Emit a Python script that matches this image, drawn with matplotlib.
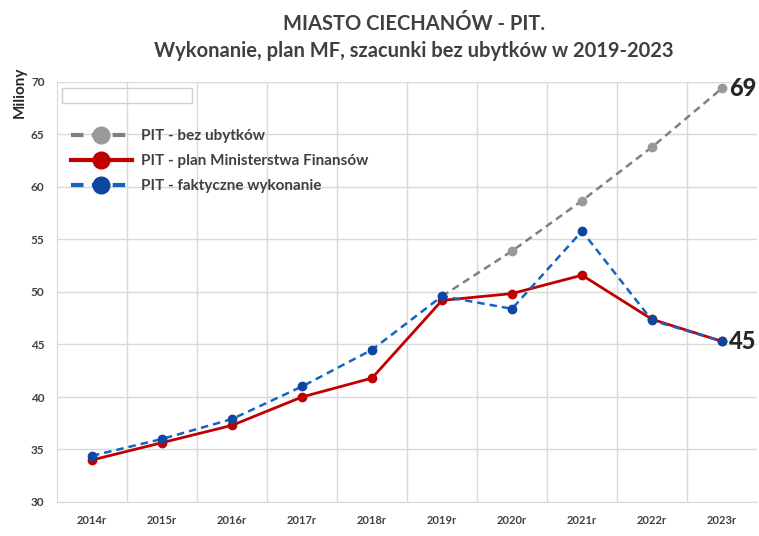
import matplotlib
matplotlib.use('Agg')
import matplotlib.pyplot as plt
from matplotlib.patches import Rectangle

lata = ['2014r', '2015r', '2016r', '2017r', '2018r', '2019r', '2020r', '2021r', '2022r', '2023r']
bez_ubytkow = [None, None, None, None, None, 49.6, 53.9, 58.7, 63.8, 69.4]
plan_mf = [34.0, 35.65, 37.3, 40.0, 41.8, 49.2, 49.85, 51.6, 47.4, 45.3]
wykonanie = [34.4, 36.0, 37.9, 41.0, 44.5, 49.6, 48.4, 55.8, 47.3, 45.3]

plt.rcParams['font.family'] = ['Lato', 'DejaVu Sans']
tekst = '#404040'

fig = plt.figure(figsize=(7.59, 5.36), dpi=100)
ax = fig.add_axes([57 / 759, 34 / 536, 700 / 759, 420 / 536])

x = list(range(len(lata)))
xb = [i for i, v in zip(x, bez_ubytkow) if v is not None]
yb = [v for v in bez_ubytkow if v is not None]

ax.plot(xb, yb, color='#808080', ls=(0, (3, 2)), lw=1.8, marker='o', ms=6,
        mfc='#999999', mec='#999999', label='PIT - bez ubytków', zorder=3)
ax.plot(x, plan_mf, color='#C00000', lw=2, marker='o', ms=6,
        label='PIT - plan Ministerstwa Finansów', zorder=4)
ax.plot(x, wykonanie, color='#1565C0', ls=(0, (3, 2)), lw=1.8, marker='o', ms=6,
        mfc='#0D47A1', mec='#0D47A1', label='PIT - faktyczne wykonanie', zorder=5)

ax.text(x[-1] + 0.1, yb[-1], '69', fontsize=17, fontweight='black', color='#262626', va='center')
ax.text(x[-1] + 0.1, wykonanie[-1], '45', fontsize=17, fontweight='black', color='#262626', va='center')

ax.set_xlim(-0.5, 9.5)
ax.set_ylim(30, 70)
ax.set_xticks(x)
ax.set_xticklabels(lata, fontsize=8, fontweight='bold', color=tekst)
ax.set_xticks([i - 0.5 for i in range(1, 10)], minor=True)
ax.set_yticks(range(30, 71, 5))
for t in ax.get_yticklabels():
    t.set_fontweight('bold')
ax.tick_params(axis='y', labelsize=8.5, colors=tekst, length=0, pad=9)
ax.tick_params(axis='x', length=0, pad=9)
ax.tick_params(which='minor', length=0)
ax.grid(True, axis='y', color='#d9d9d9', lw=1)
ax.grid(True, axis='x', which='minor', color='#d9d9d9', lw=1)
ax.set_axisbelow(True)
for s in ['top', 'right']:
    ax.spines[s].set_visible(False)
ax.spines['left'].set_color('#d9d9d9')
ax.spines['bottom'].set_color('#d9d9d9')

ax.set_ylabel('Miliony', fontsize=11, fontweight='bold', color='#262626')
ax.yaxis.set_label_coords(-0.043, 0.975)

ax.add_patch(Rectangle((0.007, 0.95), 0.186, 0.036, transform=ax.transAxes,
                       fill=False, ec='#d0d0d0', lw=1))

leg = ax.legend(loc='upper left', bbox_to_anchor=(0.0, 0.92), frameon=False,
                fontsize=11, markerscale=2.0, handlelength=4.0, labelspacing=0.72,
                handletextpad=0.6)
for t in leg.get_texts():
    t.set_fontweight('bold')
    t.set_color(tekst)
for h in leg.legend_handles:
    h.set_linewidth(3)

fig.text(0.545, 0.955, 'MIASTO CIECHANÓW - PIT.', ha='center', va='center',
         fontsize=14.5, fontweight='bold', color=tekst)
fig.text(0.545, 0.905, 'Wykonanie, plan MF, szacunki bez ubytków w 2019-2023', ha='center',
         va='center', fontsize=14.5, fontweight='bold', color=tekst)

fig.savefig('out.png', dpi=100)
